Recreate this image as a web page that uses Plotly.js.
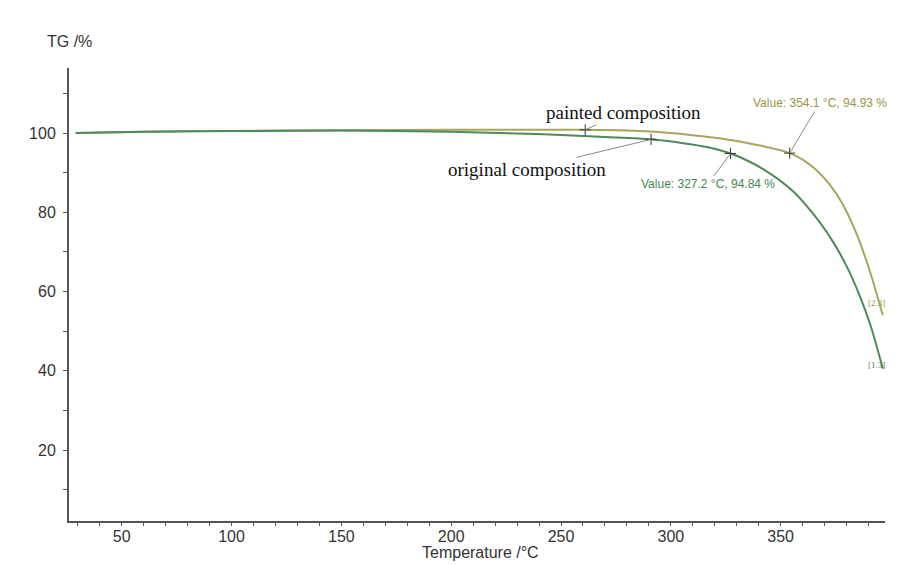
<!DOCTYPE html>
<html>
<head>
<meta charset="utf-8">
<script src="https://cdn.plot.ly/plotly-3.0.1.min.js"></script>
<style>html,body{margin:0;padding:0;background:#fff;}#chart{width:899px;height:565px;}</style>
</head>
<body>
<div id="chart"></div>
<script>
// Temperature (°C) and TG (%)
const tempOriginal = [29, 60, 100, 150, 200, 230, 250, 270, 291, 305, 317, 327.2, 335, 342, 349, 356, 362, 368, 374, 380, 386, 391, 396.5];
const tgOriginal   = [100, 100.3, 100.5, 100.6, 100.3, 99.9, 99.5, 99.0, 98.4, 97.5, 96.4, 94.84, 93.0, 90.9, 88.3, 85.1, 81.5, 77.3, 72.4, 66.4, 58.9, 51.3, 40.6];

const tempPainted = [29, 60, 100, 150, 200, 261, 280, 300, 320, 330, 340, 348, 354.1, 360, 366, 372, 378, 384, 390, 396.5];
const tgPainted   = [100, 100.3, 100.5, 100.7, 100.8, 100.8, 100.6, 100.0, 98.8, 98.0, 96.9, 95.9, 94.93, 93.3, 90.8, 87.2, 82.3, 75.3, 66.2, 54.0];

// marked points
const markTemp = [261, 291, 327.2, 354.1];
const markTg   = [100.8, 98.4, 94.84, 94.93];

const seriesNames = ["painted composition", "original composition"];
const valueLabels = ["Value: 354.1 °C, 94.93 %", "Value: 327.2 °C, 94.84 %"];
const endLabels = ["[2.3]", "[1.3]"];
const xTickVals = [50, 100, 150, 200, 250, 300, 350];
const yTickVals = [20, 40, 60, 80, 100];

const colPainted = "#a8a65e";
const colOriginal = "#4d8a5c";

const traces = [
  {x: tempPainted, y: tgPainted, mode: "lines", line: {color: colPainted, width: 2, shape: "spline", smoothing: 0.8}, hoverinfo: "skip"},
  {x: tempOriginal, y: tgOriginal, mode: "lines", line: {color: colOriginal, width: 2, shape: "spline", smoothing: 0.8}, hoverinfo: "skip"},
  {x: markTemp, y: markTg, mode: "markers", marker: {symbol: "cross-thin", size: 8, line: {color: "#333", width: 1}}, hoverinfo: "skip"}
];

const axisFont = {family: "Liberation Sans, Arial, sans-serif", size: 16, color: "#333"};
const leader = "#8a8a8a";
const serifFont = {family: "Liberation Serif, Times New Roman, serif", size: 19, color: "#111"};

const annotations = [
  {text: seriesNames[0], x: markTemp[0], y: markTg[0], xref: "x", yref: "y", ax: 38, ay: -17,
   showarrow: true, arrowhead: 0, arrowwidth: 1, arrowcolor: leader, font: serifFont},
  {text: seriesNames[1], x: markTemp[1], y: markTg[1], xref: "x", yref: "y", ax: -124, ay: 30,
   showarrow: true, arrowhead: 0, arrowwidth: 1, arrowcolor: leader, font: serifFont},
  {text: valueLabels[0], x: markTemp[3], y: markTg[3], xref: "x", yref: "y", ax: 30, ay: -50,
   showarrow: true, arrowhead: 0, arrowwidth: 1, arrowcolor: leader,
   font: {family: "Liberation Sans, Arial, sans-serif", size: 12, color: "#9a944a"}},
  {text: valueLabels[1], x: markTemp[2], y: markTg[2], xref: "x", yref: "y", ax: -23, ay: 31,
   showarrow: true, arrowhead: 0, arrowwidth: 1, arrowcolor: leader,
   font: {family: "Liberation Sans, Arial, sans-serif", size: 12, color: "#3f8a52"}},
  {text: endLabels[0], x: tempPainted[tempPainted.length - 1], y: tgPainted[tgPainted.length - 1], xref: "x", yref: "y",
   showarrow: false, xanchor: "right", xshift: 4, yshift: 12,
   font: {family: "Liberation Serif, serif", size: 9, color: "#9a944a"}},
  {text: endLabels[1], x: tempOriginal[tempOriginal.length - 1], y: tgOriginal[tgOriginal.length - 1], xref: "x", yref: "y",
   showarrow: false, xanchor: "right", xshift: 4, yshift: 3,
   font: {family: "Liberation Serif, serif", size: 9, color: "#3f8a52"}},
  {text: "TG /%", xref: "paper", yref: "paper", x: 0, y: 1.0574, xanchor: "center", yanchor: "middle",
   showarrow: false, font: axisFont},
  {text: "Temperature /°C", xref: "paper", yref: "paper", x: 0.5046, y: -0.069, xanchor: "center", yanchor: "middle",
   showarrow: false, font: axisFont}
];

const layout = {
  width: 899, height: 565,
  margin: {l: 69, r: 14, t: 68, b: 44},
  paper_bgcolor: "#fff", plot_bgcolor: "#fff",
  showlegend: false,
  font: axisFont,
  xaxis: {
    range: [26, 397.5], tickvals: xTickVals, ticks: "outside", ticklen: 3, tickwidth: 1, tickcolor: "#555",
    minor: {dtick: 10, tick0: 0, ticks: "outside", ticklen: 3, tickcolor: "#555", showgrid: false},
    showline: true, linecolor: "#555", linewidth: 2, showgrid: false, zeroline: false,
    tickfont: axisFont, ticklabelstandoff: -3
  },
  yaxis: {
    range: [2.1, 116.4], tickvals: yTickVals, ticks: "outside", ticklen: 4, tickwidth: 1, tickcolor: "#555",
    minor: {dtick: 10, tick0: 0, ticks: "outside", ticklen: 4, tickcolor: "#555", showgrid: false},
    showline: true, linecolor: "#555", linewidth: 2, showgrid: false, zeroline: false,
    tickfont: axisFont, ticklabelstandoff: 4
  },
  annotations: annotations
};

Plotly.newPlot("chart", traces, layout, {staticPlot: true, displayModeBar: false});
</script>
</body>
</html>
